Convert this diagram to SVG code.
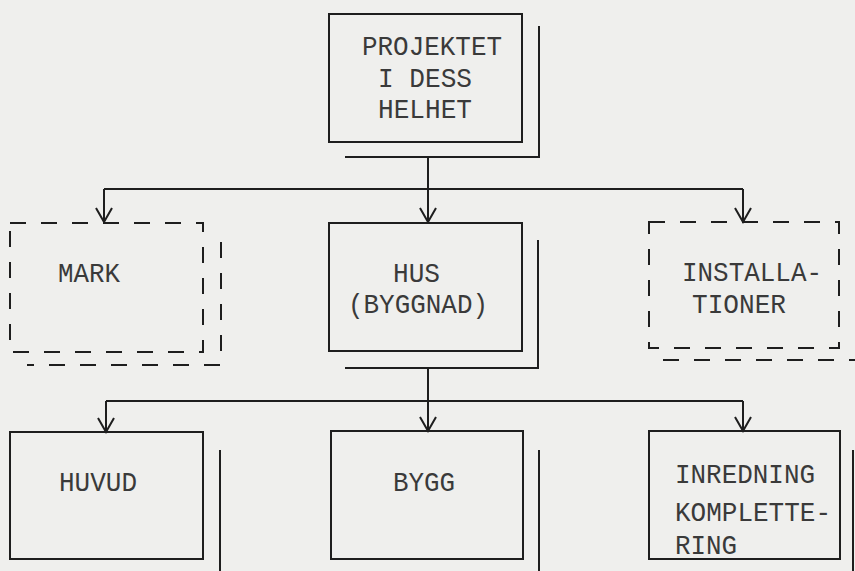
<svg xmlns="http://www.w3.org/2000/svg" width="855" height="571" viewBox="0 0 855 571">
<defs>
<style>
.bg{fill:#efefed}
.box{fill:none;stroke:#1e1e1e;stroke-width:2}
.dash{fill:none;stroke:#1e1e1e;stroke-width:2;stroke-dasharray:16 15}
.sh{fill:none;stroke:#1e1e1e;stroke-width:2}
.shd{fill:none;stroke:#1e1e1e;stroke-width:2;stroke-dasharray:16 15}
.con{fill:none;stroke:#1e1e1e;stroke-width:2}
.t{font-family:"Liberation Mono","DejaVu Sans Mono",monospace;font-size:27px;fill:#3a3a3a}
</style>
<marker id="ar" viewBox="-16 -10 18 20" refX="0" refY="0" markerWidth="18" markerHeight="20" markerUnits="userSpaceOnUse" orient="auto">
<path d="M-14,-8 L0,0 L-14,8" fill="none" stroke="#1e1e1e" stroke-width="2"/>
</marker>
</defs>
<rect class="bg" x="0" y="0" width="855" height="571"/>
<g id="connectors">
<path class="con" d="M428,157 V222" marker-end="url(#ar)"/>
<path class="con" d="M104,189 H743"/>
<path class="con" d="M104,189 V222" marker-end="url(#ar)"/>
<path class="con" d="M743,189 V222" marker-end="url(#ar)"/>
<path class="con" d="M428,368 V431" marker-end="url(#ar)"/>
<path class="con" d="M106,401 H743"/>
<path class="con" d="M106,401 V432" marker-end="url(#ar)"/>
<path class="con" d="M743,401 V431" marker-end="url(#ar)"/>
</g>
<g id="projektet">
<rect class="box" x="329" y="14" width="193" height="128"/>
<polyline class="sh" points="539,26 539,157 345,157"/>
<text class="t" x="362" y="55" textLength="140" lengthAdjust="spacingAndGlyphs">PROJEKTET</text>
<text class="t" x="378" y="87" textLength="94" lengthAdjust="spacingAndGlyphs">I DESS</text>
<text class="t" x="378" y="118" textLength="94" lengthAdjust="spacingAndGlyphs">HELHET</text>
</g>
<g id="mark">
<rect class="dash" x="10" y="223" width="193" height="129"/>
<polyline class="shd" points="221,242 221,365 27,365"/>
<text class="t" x="58" y="282" textLength="62" lengthAdjust="spacingAndGlyphs">MARK</text>
</g>
<g id="hus">
<rect class="box" x="329" y="223" width="193" height="128"/>
<polyline class="sh" points="538,240 538,368 345,368"/>
<text class="t" x="393" y="282" textLength="47" lengthAdjust="spacingAndGlyphs">HUS</text>
<text class="t" x="348" y="313" textLength="140" lengthAdjust="spacingAndGlyphs">(BYGGNAD)</text>
</g>
<g id="installationer">
<rect class="dash" x="649" y="222" width="190" height="126"/>
<polyline class="shd" points="663,360 855,360"/>
<text class="t" x="682" y="281" textLength="140" lengthAdjust="spacingAndGlyphs">INSTALLA-</text>
<text class="t" x="692" y="313" textLength="94" lengthAdjust="spacingAndGlyphs">TIONER</text>
</g>
<g id="huvud">
<rect class="box" x="10" y="432" width="193" height="127"/>
<polyline class="sh" points="220,450 220,571"/>
<text class="t" x="59" y="491" textLength="78" lengthAdjust="spacingAndGlyphs">HUVUD</text>
</g>
<g id="bygg">
<rect class="box" x="331" y="431" width="192" height="128"/>
<polyline class="sh" points="539,450 539,571"/>
<text class="t" x="393" y="491" textLength="62" lengthAdjust="spacingAndGlyphs">BYGG</text>
</g>
<g id="inredning">
<rect class="box" x="649" y="431" width="191" height="128"/>
<polyline class="sh" points="853,450 853,571"/>
<text class="t" x="675" y="483" textLength="140" lengthAdjust="spacingAndGlyphs">INREDNING</text>
<text class="t" x="675" y="521" textLength="156" lengthAdjust="spacingAndGlyphs">KOMPLETTE-</text>
<text class="t" x="675" y="554" textLength="62" lengthAdjust="spacingAndGlyphs">RING</text>
</g>
</svg>
